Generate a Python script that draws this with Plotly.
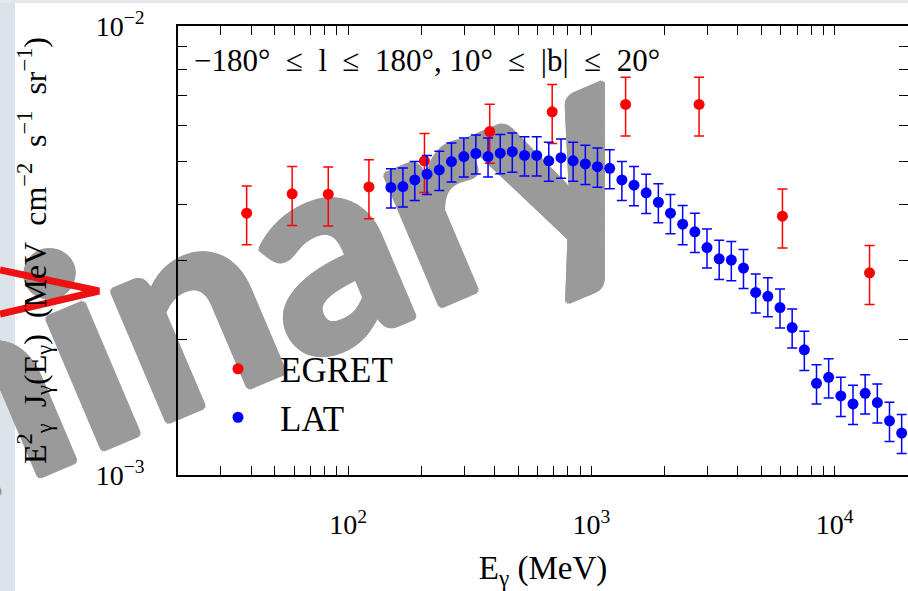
import plotly.graph_objects as go
import math

# ---------------- data ----------------
egret_energy = [38.3, 58.9, 82.9, 121.8, 206, 382, 690, 1382, 2770, 6095, 13900]
egret_flux = [3.83e-3, 4.23e-3, 4.22e-3, 4.38e-3, 5.01e-3, 5.82e-3, 6.44e-3,
              6.69e-3, 6.69e-3, 3.77e-3, 2.82e-3]
egret_err_pct = 15

lat_energy = [150, 168, 188, 211, 237, 266, 299, 335, 376, 422, 473, 531, 596,
              668, 750, 841, 944, 1059, 1189, 1334, 1496, 1679, 1884, 2113, 2371,
              2661, 2985, 3350, 3758, 4217, 4732, 5309, 5957, 6683, 7499, 8414,
              9441, 10593, 11885, 13335, 14962, 16788, 18836]
lat_flux = [4.37e-3, 4.39e-3, 4.54e-3, 4.68e-3, 4.78e-3, 4.99e-3, 5.12e-3,
            5.20e-3, 5.12e-3, 5.21e-3, 5.25e-3, 5.15e-3, 5.15e-3, 5.01e-3,
            5.09e-3, 5.01e-3, 4.93e-3, 4.86e-3, 4.82e-3, 4.54e-3, 4.42e-3,
            4.25e-3, 4.05e-3, 3.83e-3, 3.62e-3, 3.48e-3, 3.21e-3, 3.03e-3,
            3.01e-3, 2.89e-3, 2.55e-3, 2.50e-3, 2.36e-3, 2.13e-3, 1.90e-3,
            1.60e-3, 1.65e-3, 1.50e-3, 1.44e-3, 1.52e-3, 1.45e-3, 1.32e-3,
            1.24e-3]
lat_err_pct = 10

x_major = [100, 1000, 10000]
x_major_labels = ["10<sup>2</sup>", "10<sup>3</sup>", "10<sup>4</sup>"]
x_minor = [20, 30, 40, 50, 60, 70, 80, 90, 200, 300, 400, 500, 600, 700, 800,
           900, 2000, 3000, 4000, 5000, 6000, 7000, 8000, 9000, 20000]
y_major = [1e-3, 1e-2]
y_major_labels = ["10<sup>\u22123</sup>", "10<sup>\u22122</sup>"]
y_minor = [2e-3, 3e-3, 4e-3, 5e-3, 6e-3, 7e-3, 8e-3, 9e-3]

x_range = (20, 20000)
y_range = (1e-3, 1e-2)

SP = "\u2002"
region_text = (f"\u2212180\u00b0{SP}\u2264{SP}l{SP}\u2264{SP}180\u00b0, "
               f"10\u00b0{SP}\u2264{SP}|b|{SP}\u2264{SP}20\u00b0")
y_title = (f"E<sup>2</sup><sub>\u03b3</sub>{SP}J<sub>\u03b3</sub>"
           f"(E<sub>\u03b3</sub>){SP}(MeV{SP}cm<sup>\u22122</sup>{SP}"
           f"s<sup>\u22121</sup>{SP}sr<sup>\u22121</sup>)")
x_title = "E<sub>\u03b3</sub> (MeV)"
watermark_text = "Preliminary"

# ---------------- layout helpers ----------------
W, H = 908, 591
ML, MR, MT, MB = 178, 0, 26, 116
PW, PH = W - ML - MR, H - MT - MB


def px(x):
    return (x - ML) / PW


def py(y):
    return (H - MB - y) / PH


SERIF = "Liberation Serif"
WM = "#9a9a9a"


def ticks(major, major_lab, minor):
    vals = sorted(major + minor)
    text = [major_lab[major.index(v)] if v in major else "" for v in vals]
    return vals, text


xt_vals, xt_text = ticks(x_major, x_major_labels, x_minor)
yt_vals, yt_text = ticks(y_major, y_major_labels, y_minor)

fig = go.Figure()
fig.add_trace(go.Scatter(
    x=egret_energy, y=egret_flux, mode="markers", name="EGRET",
    marker=dict(color="#ff0000", size=11),
    error_y=dict(type="percent", value=egret_err_pct, color="#ff0000",
                 thickness=1.5, width=5),
))
fig.add_trace(go.Scatter(
    x=lat_energy, y=lat_flux, mode="markers", name="LAT",
    marker=dict(color="#0000ff", size=11),
    error_y=dict(type="percent", value=lat_err_pct, color="#0000ff",
                 thickness=1.5, width=5),
))

axis_common = dict(
    type="log", showline=True, linecolor="black", linewidth=1.5,
    mirror="allticks", ticks="inside", ticklen=9, tickwidth=1.2,
    tickcolor="black", showgrid=False, zeroline=False,
    tickfont=dict(family=SERIF, size=28, color="black"),
)

fig.update_xaxes(
    **axis_common, range=[math.log10(x_range[0]), math.log10(x_range[1])],
    tickmode="array", tickvals=xt_vals, ticktext=xt_text,
    ticklabelstandoff=24,
    title=dict(text=x_title,
               font=dict(family=SERIF, size=33, color="black"), standoff=20),
)
fig.update_yaxes(
    **axis_common, range=[math.log10(y_range[0]), math.log10(y_range[1])],
    tickmode="array", tickvals=yt_vals, ticktext=yt_text,
    ticklabelstandoff=26,
    title=dict(text=y_title,
               font=dict(family=SERIF, size=32, color="black"), standoff=40),
)

shadow = ", ".join(f"{a}px {b}px 0 {WM}" for a, b in
                   [(3, 0), (-3, 0), (0, 3), (0, -3),
                    (2, 2), (-2, -2), (2, -2), (-2, 2)])

shapes = [
    # left light strip of the slide
    dict(type="rect", xref="paper", yref="paper", layer="below",
         x0=px(0), x1=px(15), y0=py(H), y1=py(0),
         fillcolor="#dde3ea", line=dict(width=0)),
    dict(type="rect", xref="paper", yref="paper", layer="below",
         x0=px(0), x1=px(W), y0=py(3), y1=py(0),
         fillcolor="#e4e7eb", line=dict(width=0)),
    # watermark
    dict(type="rect", xref="paper", yref="paper", layer="below",
         x0=px(-45), x1=px(-25), y0=py(398), y1=py(378),
         fillcolor="rgba(0,0,0,0)", line=dict(width=0),
         label=dict(text=watermark_text, textangle=-23,
                    textposition="middle center",
                    font=dict(family="Lato", size=275, color=WM,
                              weight=900, shadow=shadow))),
    # red arrow head on the slide
    dict(type="path", xref="paper", yref="paper", layer="above",
         path=(f"M {px(0)},{py(270)} L {px(99)},{py(291)} "
               f"L {px(0)},{py(314)}"),
         line=dict(color="#ee1111", width=7)),
]

fig.update_layout(
    width=W, height=H,
    margin=dict(l=ML, r=MR, t=MT, b=MB, autoexpand=False),
    paper_bgcolor="white", plot_bgcolor="rgba(0,0,0,0)",
    showlegend=True,
    legend=dict(x=px(196), y=py(393), xanchor="left", yanchor="middle",
                bgcolor="rgba(0,0,0,0)", borderwidth=0, itemwidth=74,
                font=dict(family=SERIF, size=35, color="black")),
    annotations=[dict(text=region_text, xref="paper", yref="paper",
                      x=px(192), y=py(61), xanchor="left", yanchor="middle",
                      showarrow=False,
                      font=dict(family=SERIF, size=31, color="black"))],
    shapes=shapes,
)

fig.write_html("out.html")
